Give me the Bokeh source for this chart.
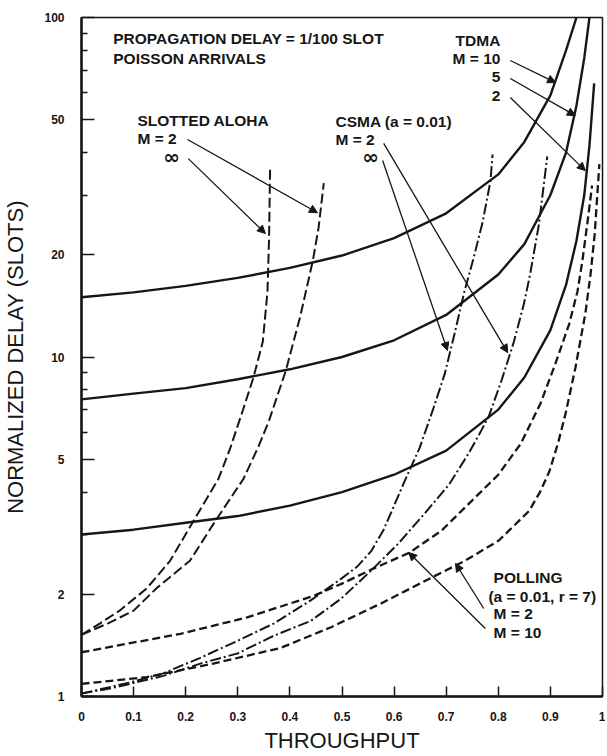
from bokeh.plotting import figure
from bokeh.models import FixedTicker, CustomJSTickFormatter, Arrow, NormalHead, ColumnDataSource
from bokeh.core.properties import value
from bokeh.embed import file_html
from bokeh.resources import INLINE

# ---------------- data ----------------
x_ticks = [0, 0.1, 0.2, 0.3, 0.4, 0.5, 0.6, 0.7, 0.8, 0.9, 1.0]
y_ticks = [1, 2, 5, 10, 20, 50, 100]
y_minor = [3, 4, 6, 7, 8, 9, 30, 40, 60, 70, 80, 90]

# TDMA (solid)
tdma10_t = [0, 0.1, 0.2, 0.3, 0.4, 0.5, 0.6, 0.7, 0.8, 0.85, 0.9, 0.93, 0.95]
tdma10_d = [15, 15.5, 16.2, 17.1, 18.3, 19.9, 22.4, 26.5, 34.5, 43, 59, 80, 100]
tdma5_t = [0, 0.1, 0.2, 0.3, 0.4, 0.5, 0.6, 0.7, 0.8, 0.85, 0.9, 0.93, 0.95, 0.965, 0.975]
tdma5_d = [7.5, 7.8, 8.1, 8.6, 9.2, 10, 11.2, 13.3, 17.5, 21.5, 30, 40, 55, 76, 100]
tdma2_t = [0, 0.1, 0.2, 0.3, 0.4, 0.5, 0.6, 0.7, 0.8, 0.85, 0.9, 0.93, 0.95, 0.965, 0.975, 0.984]
tdma2_d = [3, 3.1, 3.25, 3.4, 3.65, 4, 4.5, 5.3, 7, 8.7, 12, 16.3, 22, 30, 42, 64]

# Slotted ALOHA (dashed)
aloha_inf_t = [0, 0.035, 0.073, 0.125, 0.17, 0.215, 0.24, 0.263, 0.285, 0.31, 0.33, 0.348, 0.357, 0.36, 0.362]
aloha_inf_d = [1.52, 1.64, 1.79, 2.08, 2.51, 3.29, 3.82, 4.38, 5.36, 6.99, 8.7, 11.1, 15.6, 22.4, 36]
aloha_2_t = [0, 0.05, 0.1, 0.145, 0.208, 0.257, 0.311, 0.34, 0.36, 0.392, 0.42, 0.444, 0.455, 0.465]
aloha_2_d = [1.52, 1.64, 1.79, 2.09, 2.51, 3.29, 4.38, 5.46, 6.5, 9.1, 13.2, 19.2, 24, 32.5]

# CSMA a = 0.01 (dash-dot)
csma_inf_t = [0, 0.093, 0.157, 0.228, 0.3, 0.369, 0.44, 0.498, 0.53, 0.556, 0.58, 0.60, 0.62, 0.649,
              0.676, 0.697, 0.716, 0.735, 0.752, 0.77, 0.785, 0.789]
csma_inf_d = [1.02, 1.1, 1.17, 1.30, 1.46, 1.64, 1.92, 2.22, 2.42, 2.68, 3.1, 3.65, 4.3, 5.4,
              7.1, 8.9, 11.7, 15.6, 19.4, 25, 33, 39.5]
csma_2_t = [0, 0.06, 0.157, 0.228, 0.3, 0.369, 0.44, 0.498, 0.556, 0.608, 0.658, 0.705, 0.743,
            0.768, 0.782, 0.807, 0.83, 0.849, 0.861, 0.878, 0.894]
csma_2_d = [1.02, 1.06, 1.15, 1.25, 1.34, 1.51, 1.67, 1.94, 2.35, 2.82, 3.45, 4.2, 5.2,
            6.1, 6.7, 8.6, 11.1, 14.3, 17.5, 24.6, 39]

# Polling a = 0.01, r = 7 (dashed)
poll10_t = [0, 0.19, 0.318, 0.446, 0.50, 0.56, 0.629, 0.691, 0.749, 0.80, 0.843, 0.881, 0.909,
            0.936, 0.952, 0.961, 0.972, 0.98]
poll10_d = [1.35, 1.53, 1.71, 1.98, 2.15, 2.38, 2.65, 3.08, 3.77, 4.5, 5.55, 7.3, 9.5,
            12.5, 15.6, 19, 25.5, 32]
poll2_t = [0, 0.125, 0.253, 0.382, 0.479, 0.575, 0.672, 0.736, 0.801, 0.859, 0.88, 0.898, 0.915,
           0.929, 0.948, 0.967, 0.977, 0.985, 0.994]
poll2_d = [1.09, 1.14, 1.25, 1.39, 1.6, 1.88, 2.24, 2.51, 2.88, 3.52, 4.0, 4.6, 5.6,
           6.8, 9.3, 13.4, 17.5, 23, 37]

# annotation texts
ann_text = ["PROPAGATION DELAY = 1/100 SLOT", "POISSON ARRIVALS",
            "SLOTTED ALOHA", "M = 2",
            "CSMA (a = 0.01)", "M = 2",
            "POLLING", "(a = 0.01, r = 7)", "M = 2", "M = 10"]
ann_x = [0.061, 0.061, 0.1075, 0.1075, 0.4875, 0.4875, 0.791, 0.781, 0.791, 0.791]
ann_y = [86.8, 75.7, 49.7, 44.0, 49.4, 43.7, 2.24, 1.97, 1.756, 1.543]

tdma_text = ["TDMA", "M = 10", "5", "2"]
tdma_x = [0.804, 0.804, 0.804, 0.804]
tdma_y = [85.6, 75.7, 66.6, 58.9]

inf_text = ["\u221e", "\u221e"]
inf_x = [0.157, 0.539]
inf_y = [38.9, 38.9]

# arrows: (x_start, y_start, x_end, y_end)
arrows = [
    (0.2035, 43.7, 0.453, 26.6),   # ALOHA M=2
    (0.205, 38.4, 0.353, 23.1),    # ALOHA inf
    (0.580, 42.6, 0.818, 10.3),    # CSMA M=2
    (0.578, 37.9, 0.7025, 10.45),  # CSMA inf
    (0.823, 74.7, 0.910, 64.3),    # TDMA 10
    (0.823, 66.1, 0.948, 51.4),    # TDMA 5
    (0.823, 58.1, 0.967, 35.4),    # TDMA 2
    (0.772, 1.816, 0.718, 2.465),  # POLL M=2
    (0.775, 1.586, 0.628, 2.656),  # POLL M=10
]

# ---------------- figure ----------------
INK = "#161616"
FONT = "Liberation Sans"

p = figure(width=605, height=756, x_range=(0, 1), y_range=(1, 100), y_axis_type="log",
           output_backend="svg", toolbar_location=None,
           min_border_left=81, min_border_right=3, min_border_top=17, min_border_bottom=60)
p.background_fill_color = "white"
p.border_fill_color = "white"
p.grid.visible = False
p.outline_line_color = INK
p.outline_line_width = 1.5

for ax in (p.xaxis, p.yaxis):
    ax.axis_line_width = 2.5
    ax.axis_line_color = INK
    ax.major_tick_line_color = INK
    ax.major_tick_line_width = 1.5
    ax.major_tick_out = 0
    ax.minor_tick_out = 0
    ax.major_label_text_font = FONT
    ax.major_label_text_font_style = "bold"
    ax.major_label_text_font_size = "12px"
    ax.major_label_text_color = INK
    ax.axis_label_text_font = FONT
    ax.axis_label_text_font_style = "normal"
    ax.axis_label_text_font_size = "22px"
    ax.axis_label_text_color = INK

p.xaxis.ticker = FixedTicker(ticks=x_ticks)
p.xaxis.formatter = CustomJSTickFormatter(code="return (Math.round(tick*10)/10).toString();")
p.xaxis.major_tick_in = 10
p.xaxis.minor_tick_line_color = None
p.xaxis.major_label_standoff = 15
p.xaxis.axis_label = "THROUGHPUT"
p.xaxis.axis_label_standoff = 4

p.yaxis.ticker = FixedTicker(ticks=y_ticks, minor_ticks=y_minor)
p.yaxis.formatter = CustomJSTickFormatter(code="return tick.toString();")
p.yaxis.major_tick_in = 13
p.yaxis.minor_tick_in = 6
p.yaxis.minor_tick_line_color = INK
p.yaxis.minor_tick_line_width = 1.5
p.yaxis.major_label_standoff = 17
p.yaxis.axis_label = "NORMALIZED DELAY (SLOTS)"
p.yaxis.axis_label_standoff = 13

# curves
for t, d in ((tdma10_t, tdma10_d), (tdma5_t, tdma5_d), (tdma2_t, tdma2_d)):
    p.line(t, d, line_color=INK, line_width=2.4)
for t, d in ((aloha_inf_t, aloha_inf_d), (aloha_2_t, aloha_2_d)):
    p.line(t, d, line_color=INK, line_width=2.0, line_dash="10 4")
for t, d in ((csma_inf_t, csma_inf_d), (csma_2_t, csma_2_d)):
    p.line(t, d, line_color=INK, line_width=2.0, line_dash="11 3 2 3")
for t, d in ((poll10_t, poll10_d), (poll2_t, poll2_d)):
    p.line(t, d, line_color=INK, line_width=2.3, line_dash="8 4")

# arrows
for xs, ys, xe, ye in arrows:
    p.add_layout(Arrow(end=NormalHead(size=8, fill_color=INK, line_color=INK, line_width=1),
                       x_start=xs, y_start=ys, x_end=xe, y_end=ye,
                       line_color=INK, line_width=1.3))

# texts
src = ColumnDataSource(dict(x=ann_x, y=ann_y, text=ann_text))
p.text(x="x", y="y", text="text", source=src, text_font=value(FONT), text_font_size="15.5px",
       text_font_style="bold", text_color=INK, text_align="left", text_baseline="middle")
src2 = ColumnDataSource(dict(x=tdma_x, y=tdma_y, text=tdma_text))
p.text(x="x", y="y", text="text", source=src2, text_font=value(FONT), text_font_size="15.5px",
       text_font_style="bold", text_color=INK, text_align="right", text_baseline="middle")
src3 = ColumnDataSource(dict(x=inf_x, y=inf_y, text=inf_text))
p.text(x="x", y="y", text="text", source=src3, text_font=value("DejaVu Sans"), text_font_size="20px",
       text_font_style="bold", text_color=INK, text_align="left", text_baseline="middle")

open("out.html", "w").write(file_html(p, INLINE))
